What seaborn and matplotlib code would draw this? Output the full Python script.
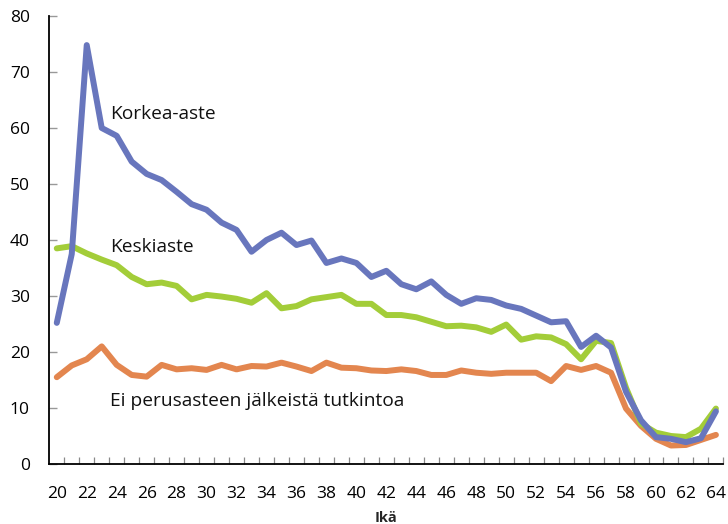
import numpy as np
import pandas as pd
import seaborn as sns
import matplotlib.pyplot as plt
from matplotlib.ticker import MultipleLocator, FixedLocator

sns.set_theme(style="ticks")
plt.rcParams['font.family'] = ['Open Sans', 'DejaVu Sans']

ages = list(range(20, 65))

korkea = [25.2, 37.5, 74.8, 60.0, 58.6, 54.0, 51.8, 50.7, 48.6, 46.4,
          45.4, 43.1, 41.8, 37.9, 40.0, 41.3, 39.1, 39.9, 35.9, 36.7,
          35.9, 33.4, 34.5, 32.1, 31.2, 32.6, 30.2, 28.6, 29.6, 29.3,
          28.3, 27.7, 26.5, 25.3, 25.5, 20.9, 22.9, 20.8, 12.9, 7.8,
          4.8, 4.5, 3.9, 4.6, 9.4]

keski = [38.5, 38.9, 37.6, 36.5, 35.5, 33.4, 32.1, 32.4, 31.8, 29.4,
         30.2, 29.9, 29.5, 28.8, 30.5, 27.8, 28.2, 29.4, 29.8, 30.2,
         28.6, 28.6, 26.6, 26.6, 26.2, 25.4, 24.6, 24.7, 24.4, 23.6,
         24.9, 22.2, 22.8, 22.6, 21.4, 18.7, 22.0, 21.6, 13.6, 7.2,
         5.6, 5.0, 4.8, 6.3, 9.9]

ei_perus = [15.5, 17.6, 18.7, 21.0, 17.7, 15.9, 15.6, 17.7, 16.9, 17.1,
            16.8, 17.7, 16.9, 17.5, 17.4, 18.1, 17.4, 16.6, 18.1, 17.2,
            17.1, 16.7, 16.6, 16.9, 16.6, 15.9, 15.9, 16.7, 16.3, 16.1,
            16.3, 16.3, 16.3, 14.8, 17.5, 16.8, 17.5, 16.3, 9.9, 6.8,
            4.5, 3.3, 3.4, 4.3, 5.2]

series = ['Ei perusasteen jälkeistä tutkintoa', 'Keskiaste', 'Korkea-aste']
colors = ['#E3864F', '#A3CD39', '#6876BD']

df = pd.DataFrame({
    'Ikä': ages * 3,
    'Osuus': ei_perus + keski + korkea,
    'Koulutus': [series[0]] * len(ages) + [series[1]] * len(ages) + [series[2]] * len(ages),
})

fig = plt.figure(figsize=(7.28, 5.24), dpi=100)
ax = fig.add_axes([0.0677, 0.1145, 0.926, 0.855])

sns.lineplot(data=df, x='Ikä', y='Osuus', hue='Koulutus', hue_order=series,
             palette=colors, linewidth=4.3, legend=False, ax=ax)

ax.set_xlim(19.5, 64.5)
ax.set_ylim(0, 80)

for s in ['top', 'right']:
    ax.spines[s].set_visible(False)
for s in ['left', 'bottom']:
    ax.spines[s].set_visible(True)
    ax.spines[s].set_color('black')
    ax.spines[s].set_linewidth(1.3)
    ax.spines[s].set_zorder(5)

ax.xaxis.set_major_locator(FixedLocator(list(range(20, 65, 2))))
ax.xaxis.set_minor_locator(FixedLocator([a + 0.5 for a in ages]))
ax.yaxis.set_major_locator(MultipleLocator(10))
ax.tick_params(axis='x', which='major', bottom=True, length=0, pad=16,
               labelsize=12.5, labelcolor='black')
ax.tick_params(axis='x', which='minor', bottom=True, direction='in', length=5,
               width=0.9, color='#888888')
ax.tick_params(axis='y', which='major', left=True, direction='in', length=6,
               width=1, color='#999999', pad=14, labelsize=12.5, labelcolor='black')

ax.set_xlabel('Ikä', fontsize=10.5, fontweight='bold', labelpad=6)
ax.set_ylabel('')

ax.text(23.55, 61.6, 'Korkea-aste', fontsize=13.8, ha='left', va='baseline', color='#111111')
ax.text(23.55, 37.9, 'Keskiaste', fontsize=13.8, ha='left', va='baseline', color='#111111')
ax.text(23.55, 10.4, 'Ei perusasteen jälkeistä tutkintoa', fontsize=13.8, ha='left',
        va='baseline', color='#111111')

fig.savefig('out.png', dpi=100)
